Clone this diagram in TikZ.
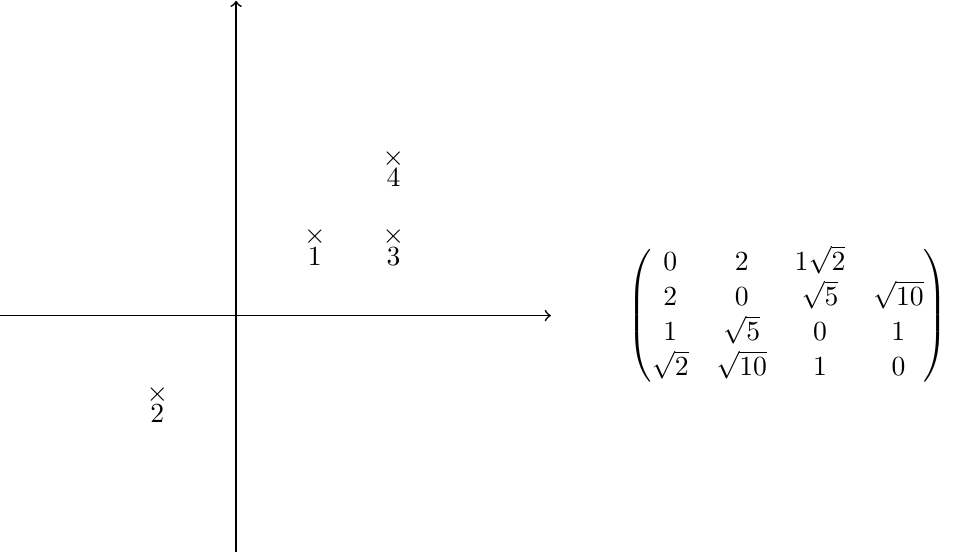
\documentclass[tikz,border=0pt]{standalone}
\usepackage{amsmath}
\begin{document}
\begin{tikzpicture}[
  axis/.style={->,semithick},
  pt/.style={inner sep=0pt},
  lab/.style={inner sep=0pt}]
\useasboundingbox (-3,-3) rectangle (9.135,4.01);
\coordinate (xl) at (-3,0);
\coordinate (xr) at (4,0);
\coordinate (yb) at (0,-3);
\coordinate (yt) at (0,4);
\draw[axis] (xl) -- (xr);
\draw[axis] (yb) -- (yt);
\node[pt] (p1) at (1,1) {$\times$};
\node[lab] (l1) at (1,0.75) {$1$};
\node[pt] (p2) at (-1,-1) {$\times$};
\node[lab] (l2) at (-1,-1.25) {$2$};
\node[pt] (p3) at (2,1) {$\times$};
\node[lab] (l3) at (2,0.75) {$3$};
\node[pt] (p4) at (2,2) {$\times$};
\node[lab] (l4) at (2,1.75) {$4$};
\node (m) at (7.01,0) {$\begin{pmatrix}
0 & 2 & 1\sqrt{2} & \\
2 & 0 & \sqrt{5} & \sqrt{10}\\
1 & \sqrt{5} & 0 & 1\\
\sqrt{2} & \sqrt{10} & 1 & 0
\end{pmatrix}$};
\end{tikzpicture}
\end{document}
